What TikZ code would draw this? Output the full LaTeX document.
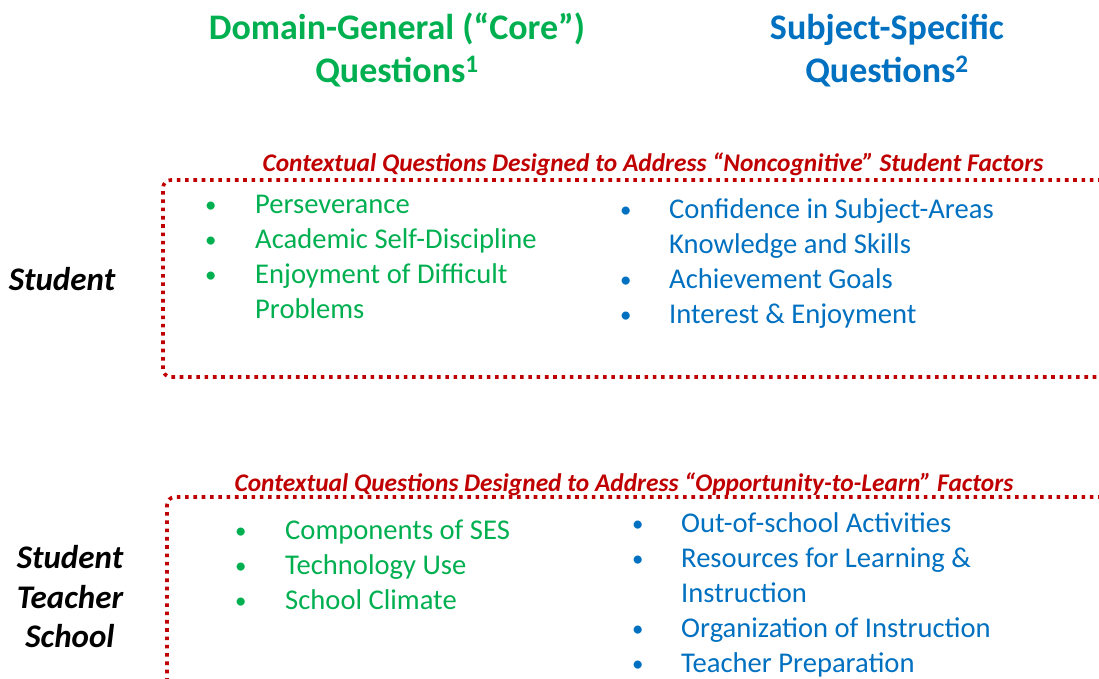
\documentclass[tikz,border=0pt]{standalone}
\usepackage{fontspec}
\setmainfont{Carlito}

\definecolor{coregreen}{RGB}{0,176,80}
\definecolor{subjblue}{RGB}{0,112,192}
\definecolor{ctxred}{RGB}{192,0,0}

\tikzset{
	headtxt/.style = {font=\bfseries\fontsize{36}{43}\selectfont, inner sep=0, anchor=base},
	ctxtxt/.style = {font=\bfseries\itshape\fontsize{25.4}{28}\selectfont, text=ctxred, inner sep=0, anchor=base},
	rowtxt/.style = {font=\bfseries\itshape\fontsize{33}{39.5}\selectfont, align=center, inner sep=0},
	listtxt/.style = {font=\fontsize{28.6}{35}\selectfont, inner sep=0, anchor=base west},
	ctxbox/.style = {draw=ctxred, line width=3.6pt, dash pattern=on 3.6pt off 4.7pt, rounded corners=8pt}
}

\newcommand{\qlist}[2]{\begin{tabular}[t]{@{}p{#1pt}@{}l@{}}#2\end{tabular}}
\newcommand{\qb}{\raisebox{1pt}{\scalebox{0.8}{\textbullet}}}

\begin{document}
\begin{tikzpicture}[x=1pt, y=-1pt]
	\useasboundingbox (0, 0) rectangle (1099, 678);
	\clip (0, 0) rectangle (1099, 678);
	% column heads
	\node[headtxt, text=coregreen] (corehead) at (397, 39) {Domain-General (“Core”)};
	\node[headtxt, text=coregreen] (corehead2) at (397, 82) {Questions\textsuperscript{1}};
	\node[headtxt, text=subjblue] (subjhead) at (887, 39) {Subject-Specific};
	\node[headtxt, text=subjblue] (subjhead2) at (887, 82) {Questions\textsuperscript{2}};
	% noncognitive block
	\node[ctxtxt] (noncogcap) at (653, 171) {Contextual Questions Designed to Address “Noncognitive” Student Factors};
	\draw[ctxbox] (1110, 180) -- (163, 180) -- (163, 377) -- (1110, 377);
	\node[rowtxt] (studrow) at (62, 279) {Student};
	\node[listtxt, text=coregreen] (noncogcore) at (205, 213) {\qlist{50}{%
		\qb & Perseverance\\
		\qb & Academic Self-Discipline\\
		\qb & Enjoyment of Difficult\\
		& Problems}};
	\node[listtxt, text=subjblue] (noncogsubj) at (620, 218) {\qlist{49}{%
		\qb & Confidence in Subject-Areas\\
		& Knowledge and Skills\\
		\qb & Achievement Goals\\
		\qb & Interest \& Enjoyment}};
	% opportunity block
	\node[ctxtxt] (otlcap) at (624, 491) {Contextual Questions Designed to Address “Opportunity-to-Learn” Factors};
	\draw[ctxbox] (1110, 497) -- (167, 497) -- (167, 700);
	\node[rowtxt] (strow) at (70, 597) {Student\\Teacher\\School};
	\node[listtxt, text=coregreen] (otlcore) at (235, 539) {\qlist{50}{%
		\qb & Components of SES\\
		\qb & Technology Use\\
		\qb & School Climate}};
	\node[listtxt, text=subjblue] (otlsubj) at (632, 532) {\qlist{49}{%
		\qb & Out-of-school Activities\\
		\qb & Resources for Learning \&\\
		& Instruction\\
		\qb & Organization of Instruction\\
		\qb & Teacher Preparation}};
\end{tikzpicture}
\end{document}
